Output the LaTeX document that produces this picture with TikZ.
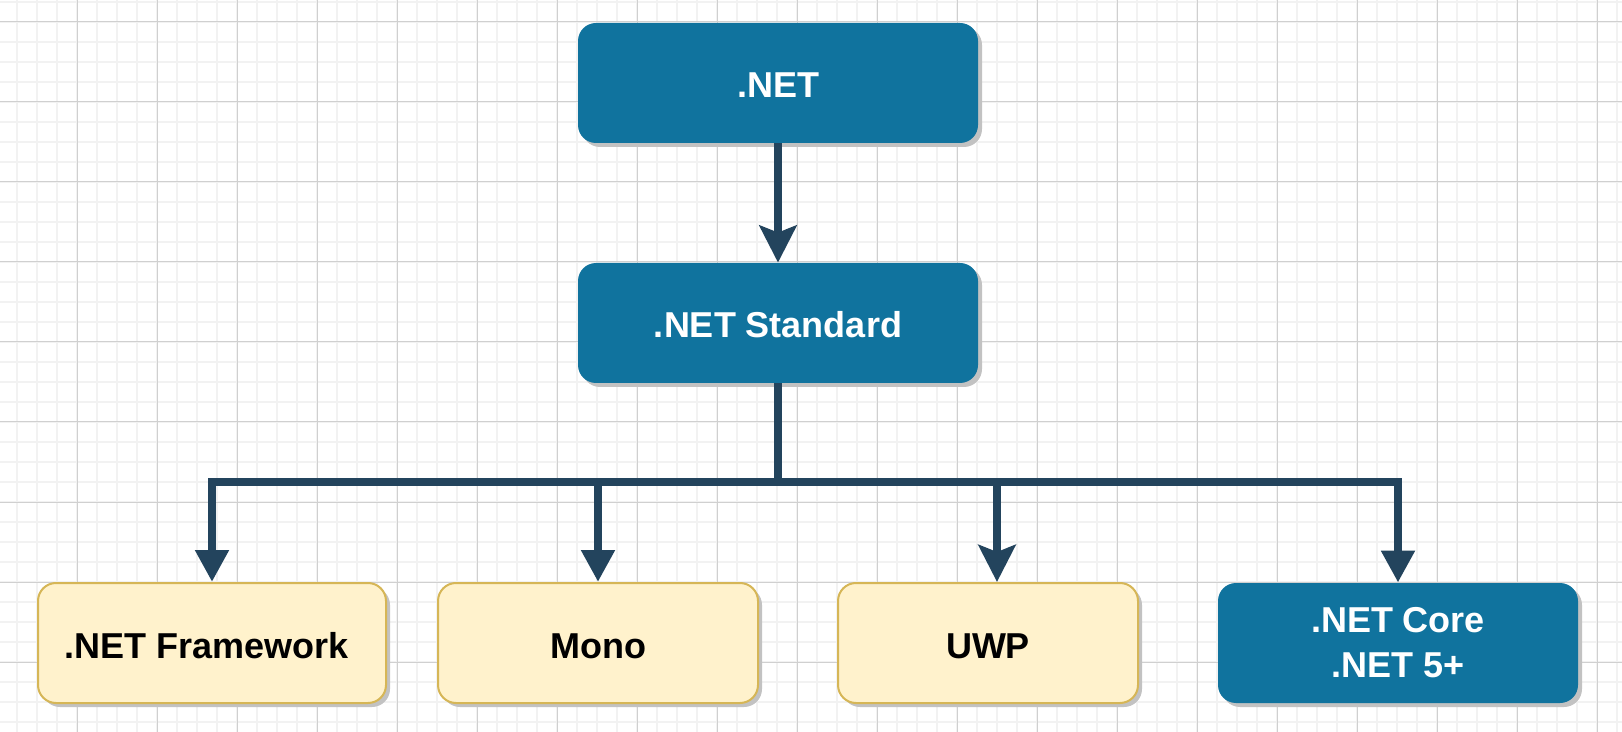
\documentclass[tikz,border=0pt]{standalone}
\usepackage{fontspec}
\setmainfont{Liberation Sans}
\usetikzlibrary{arrows.meta,shadows}
\definecolor{netblue}{HTML}{10739E}
\definecolor{fwfill}{HTML}{FFF2CC}
\definecolor{fwline}{HTML}{D6B656}
\definecolor{connc}{HTML}{23445D}
\definecolor{gridminor}{HTML}{F2F2F2}
\definecolor{gridmajor}{HTML}{D0D0D0}
\definecolor{shadowgray}{HTML}{C2C2C2}
\begin{document}
\begin{tikzpicture}[x=0.5pt,y=-0.5pt,
  box/.style={rounded corners=9pt, minimum height=60pt, inner sep=0pt, align=center,
    font=\fontsize{18pt}{22.5pt}\selectfont\bfseries,
    drop shadow={shadow xshift=2pt, shadow yshift=-2pt, fill=shadowgray, opacity=1}},
  oneline/.style={text height=15pt, text depth=0pt},
  bluebox/.style={box, fill=netblue, text=white},
  yelbox/.style={box, fill=fwfill, draw=fwline, line width=1pt, text=black},
  link/.style={draw=connc, line width=4pt},
  flathead/.style={-{Triangle[length=16pt,width=16pt]}},
  notchhead/.style={-{Stealth[length=18.5pt,width=18.5pt,inset=3.5pt]}},
  minorline/.style={draw=gridminor, line width=0.9pt},
  majorline/.style={draw=gridmajor, line width=0.5pt},
]
\useasboundingbox (0,0) rectangle (1622,732);
\fill[white] (0,0) rectangle (1622,732);
\begin{scope}
\clip (0,0) rectangle (1622,732);
\foreach \x in {17,37,...,1617} \draw[minorline] (\x,0) -- (\x,732);
\foreach \y in {2,22,...,722} \draw[minorline] (0,\y) -- (1622,\y);
\foreach \x in {77,157,...,1597} \draw[majorline] (\x,0) -- (\x,732);
\foreach \y in {22,102,...,662} \draw[majorline] (0,\y) -- (1622,\y);
\end{scope}

\node[bluebox, oneline, minimum width=200pt] (net) at (778,83) {.NET};
\node[bluebox, oneline, minimum width=200pt] (std) at (778,323) {.NET Standard};
\node[yelbox, oneline, minimum width=174pt] (fw) at (212,643) {.NET Framework\hspace*{5pt}};
\node[yelbox, oneline, minimum width=160pt] (mono) at (598,643) {Mono};
\node[yelbox, oneline, minimum width=150pt] (uwp) at (988,643) {UWP};
\node[bluebox, minimum width=180pt] (core) at (1398,643) {.NET Core\\.NET 5+};

\coordinate (bar) at (778,482);
\draw[link,notchhead] (net.south) -- (std.north);
\draw[link,flathead] (std.south) -- (bar) -| (fw.north);
\draw[link,flathead] (std.south) -- (bar) -| (mono.north);
\draw[link,notchhead] (std.south) -- (bar) -| ([xshift=4.5pt]uwp.north);
\draw[link,flathead] (std.south) -- (bar) -| (core.north);
\end{tikzpicture}
\end{document}
